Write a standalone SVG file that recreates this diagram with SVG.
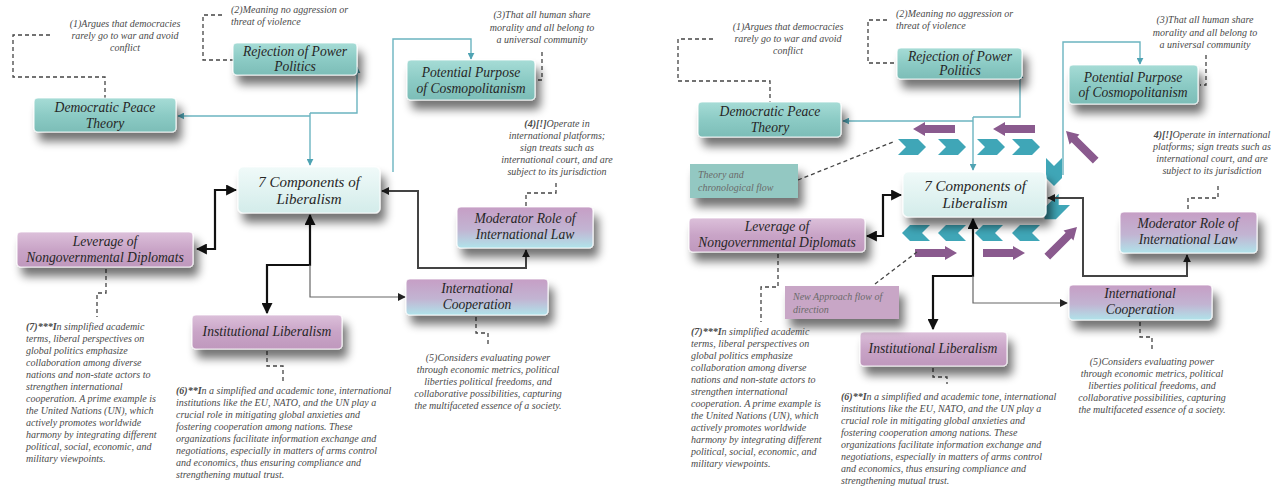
<svg xmlns="http://www.w3.org/2000/svg" width="1272" height="488" viewBox="0 0 1272 488">
<defs>
<style>
.bt{font-family:"Liberation Serif",serif;font-style:italic;font-size:13.6px;fill:#262626;text-anchor:middle}
.bt7{font-family:"Liberation Serif",serif;font-style:italic;font-size:15px;fill:#262626;text-anchor:middle}
.an{font-family:"Liberation Serif",serif;font-style:italic;font-size:10px;fill:#4a4a4a}
.ac{text-anchor:middle}
.sm{font-family:"Liberation Serif",serif;font-style:italic;font-size:10px;fill:#6a6a6a}
.box{stroke:#ffffff;stroke-opacity:0.8;stroke-width:1.2;filter:url(#sh)}
.teal{fill:url(#gTeal)}
.light{fill:url(#gLight)}
.pink{fill:url(#gPink)}
.pc{fill:url(#gPC)}
.dash{fill:none;stroke:#444;stroke-width:1.3;stroke-dasharray:4 3}
.ct{fill:none;stroke:#6bb4c0;stroke-width:1.4}
.cb{fill:none;stroke:#111;stroke-width:2.2}
.cg{fill:none;stroke:#666;stroke-width:1.2}
.cd{fill:none;stroke:#444;stroke-width:2}
.chev{fill:#3fa6b7}
.parr{fill:#8a5a8e}
</style>
<linearGradient id="gTeal" x1="0" y1="0" x2="0" y2="1"><stop offset="0" stop-color="#a6dcd6"/><stop offset="0.5" stop-color="#8ccbc5"/><stop offset="1" stop-color="#7cbdb7"/></linearGradient>
<linearGradient id="gLight" x1="0" y1="0" x2="0" y2="1"><stop offset="0" stop-color="#f0faf9"/><stop offset="1" stop-color="#d3ecea"/></linearGradient>
<linearGradient id="gPink" x1="0" y1="0" x2="0" y2="1"><stop offset="0" stop-color="#dcc0da"/><stop offset="0.5" stop-color="#c9a4c7"/><stop offset="1" stop-color="#bf98bd"/></linearGradient>
<linearGradient id="gPC" x1="0" y1="0" x2="0" y2="1"><stop offset="0" stop-color="#c69ec5"/><stop offset="0.55" stop-color="#c2b4d2"/><stop offset="1" stop-color="#b0e3ea"/></linearGradient>
<filter id="sh" x="-20%" y="-30%" width="150%" height="190%"><feGaussianBlur in="SourceAlpha" stdDeviation="5"/><feOffset dx="5" dy="9" result="b"/><feComponentTransfer><feFuncA type="linear" slope="0.55"/></feComponentTransfer><feMerge><feMergeNode/><feMergeNode in="SourceGraphic"/></feMerge></filter>
<marker id="mT" viewBox="0 0 10 10" refX="9" refY="5" markerWidth="7" markerHeight="7" orient="auto-start-reverse" markerUnits="userSpaceOnUse"><path d="M0,0 L10,5 L0,10 z" fill="#4fa3b3"/></marker>
<marker id="mB" viewBox="0 0 10 10" refX="9" refY="5" markerWidth="11" markerHeight="11" orient="auto-start-reverse" markerUnits="userSpaceOnUse"><path d="M0,0 L10,5 L0,10 z" fill="#111"/></marker>
<marker id="mG" viewBox="0 0 10 10" refX="9" refY="5" markerWidth="8" markerHeight="8" orient="auto-start-reverse" markerUnits="userSpaceOnUse"><path d="M0,0 L10,5 L0,10 z" fill="#222"/></marker>
<path id="chR" d="M0,0 L20,0 L28,8 L20,16 L0,16 L8,8 z"/>
<path id="paL" d="M0,0 L12,-7 L12,-4 L42,-4 L42,4 L12,4 L12,7 z"/>
</defs>
<rect width="1272" height="488" fill="#ffffff"/>

<!-- LEFT DIAGRAM -->
<g id="connectors-left">
<path class="ct" d="M310 113 L357 113 L357 67" marker-end="url(#mT)"/>
<path class="ct" d="M310 113 L310 165" marker-end="url(#mT)"/>
<path class="ct" d="M310 116 L178 116" marker-end="url(#mT)"/>
<path class="ct" d="M393 172 L393 39 L471 39 L471 59" marker-end="url(#mT)"/>
<path class="cb" d="M197 249 L215 249 L215 190 L236 190" marker-start="url(#mB)" marker-end="url(#mB)"/>
<path class="cb" d="M310 215 L310 265 L267 265 L267 313" marker-start="url(#mB)" marker-end="url(#mB)"/>
<path class="cg" d="M310 265 L310 297 L405 297" marker-end="url(#mG)"/>
<path class="cd" d="M526 250 L526 268 L418 268 L418 191 L382 191" marker-start="url(#mG)" marker-end="url(#mG)"/>
<path class="dash" d="M50 35 L13 35 L13 77 L105 77 L105 98"/>
<path class="dash" d="M222 15 L203 15 L203 60 L233 60"/>
<path class="dash" d="M542 52 L542 80 L537 80"/>
<path class="dash" d="M556 183 L556 193 L526 193 L526 207"/>
<path class="dash" d="M476 317 L476 333 L488 333 L488 347"/>
<path class="dash" d="M267 351 L267 366 L283 366 L283 382"/>
<path class="dash" d="M106 269 L106 293 L97 293 L97 317"/>
</g>

<g id="L-democratic"><rect class="box teal" x="34" y="98" width="142" height="34" rx="4"/><text class="bt" x="105" y="112">Democratic Peace</text><text class="bt" x="105" y="128">Theory</text></g>
<g id="L-rejection"><rect class="box teal" x="233" y="43" width="124" height="32" rx="4"/><text class="bt" x="295" y="56">Rejection of Power</text><text class="bt" x="295" y="71">Politics</text></g>
<g id="L-potential"><rect class="box teal" x="407" y="60" width="128" height="40" rx="4"/><text class="bt" x="471" y="77">Potential Purpose</text><text class="bt" x="471" y="93">of Cosmopolitanism</text></g>
<g id="L-components"><rect class="box light" x="238" y="167" width="142" height="46" rx="5"/><text class="bt7" x="309" y="187">7 Components of</text><text class="bt7" x="309" y="204">Liberalism</text></g>
<g id="L-leverage"><rect class="box pink" x="17" y="232" width="176" height="35" rx="4"/><text class="bt" x="105" y="246">Leverage of</text><text class="bt" x="105" y="262">Nongovernmental Diplomats</text></g>
<g id="L-moderator"><rect class="box pc" x="457" y="207" width="136" height="41" rx="4"/><text class="bt" x="525" y="223">Moderator Role of</text><text class="bt" x="525" y="239">International Law</text></g>
<g id="L-cooperation"><rect class="box pc" x="406" y="279" width="142" height="36" rx="4"/><text class="bt" x="477" y="293">International</text><text class="bt" x="477" y="309">Cooperation</text></g>
<g id="L-institutional"><rect class="box pink" x="192" y="315" width="150" height="34" rx="4"/><text class="bt" x="267" y="336">Institutional Liberalism</text></g>

<g id="L-notes">
<text class="an ac"><tspan x="125" y="27">(1)Argues that democracies</tspan><tspan x="125" y="39">rarely go to war and avoid</tspan><tspan x="125" y="51">conflict</tspan></text>
<text class="an"><tspan x="231" y="13">(2)Meaning no aggression or</tspan><tspan x="231" y="25">threat of violence</tspan></text>
<text class="an ac"><tspan x="542" y="18">(3)That all human share</tspan><tspan x="542" y="31">morality and all belong to</tspan><tspan x="542" y="43">a universal community</tspan></text>
<text class="an ac"><tspan x="557" y="127"><tspan font-weight="bold">(4)[!]</tspan>Operate in</tspan><tspan x="557" y="139">international platforms;</tspan><tspan x="557" y="151">sign treats such as</tspan><tspan x="557" y="163">international court, and are</tspan><tspan x="557" y="175">subject to its jurisdiction</tspan></text>
<text class="an ac"><tspan x="488" y="361">(5)Considers evaluating power</tspan><tspan x="488" y="373">through  economic metrics, political</tspan><tspan x="488" y="385">liberties political freedoms, and</tspan><tspan x="488" y="397">collaborative possibilities, capturing</tspan><tspan x="488" y="409">the multifaceted essence of a society.</tspan></text>
<text class="an"><tspan x="176" y="394"><tspan font-weight="bold">(6)**I</tspan>n a simplified and academic tone, international</tspan><tspan x="176" y="406">institutions like the EU, NATO, and the UN play a</tspan><tspan x="176" y="418">crucial role in mitigating global anxieties  and</tspan><tspan x="176" y="430">fostering cooperation among nations. These</tspan><tspan x="176" y="442">organizations facilitate information exchange and</tspan><tspan x="176" y="454">negotiations, especially in matters of arms control</tspan><tspan x="176" y="466">and economics, thus ensuring compliance and</tspan><tspan x="176" y="478">strengthening mutual trust.</tspan></text>
<text class="an"><tspan x="26" y="330"><tspan font-weight="bold">(7)***I</tspan>n simplified academic</tspan><tspan x="26" y="342">terms, liberal perspectives on</tspan><tspan x="26" y="354">global politics emphasize</tspan><tspan x="26" y="366">collaboration among diverse</tspan><tspan x="26" y="378">nations and non-state actors to</tspan><tspan x="26" y="390">strengthen international</tspan><tspan x="26" y="402">cooperation. A prime example is</tspan><tspan x="26" y="414">the United Nations (UN), which</tspan><tspan x="26" y="426">actively promotes worldwide</tspan><tspan x="26" y="438">harmony by integrating different</tspan><tspan x="26" y="450">political, social, economic, and</tspan><tspan x="26" y="462">military viewpoints.</tspan></text>
</g>

<!-- RIGHT DIAGRAM -->
<g id="flow-arrows">
<use href="#chR" class="chev" x="898" y="139"/>
<use href="#chR" class="chev" x="938" y="139"/>
<use href="#chR" class="chev" x="977" y="139"/>
<use href="#chR" class="chev" x="1012" y="139"/>
<use href="#chR" class="chev" transform="translate(1062,158) rotate(90)"/>
<use href="#chR" class="chev" transform="translate(1070,205) rotate(135)"/>
<use href="#chR" class="chev" transform="translate(930,241) rotate(180)"/>
<use href="#chR" class="chev" transform="translate(966,241) rotate(180)"/>
<use href="#chR" class="chev" transform="translate(1003,241) rotate(180)"/>
<use href="#chR" class="chev" transform="translate(1040,241) rotate(180)"/>
<use href="#paL" class="parr" x="913" y="129"/>
<use href="#paL" class="parr" x="993" y="129"/>
<use href="#paL" class="parr" transform="translate(1066,131) rotate(45)"/>
<use href="#paL" class="parr" transform="translate(957,253) rotate(180)"/>
<use href="#paL" class="parr" transform="translate(1025,253) rotate(180)"/>
<use href="#paL" class="parr" transform="translate(1077,227) rotate(135)"/>
</g>

<g id="connectors-right">
<path class="ct" d="M973 117 L1020 117 L1020 72" marker-end="url(#mT)"/>
<path class="ct" d="M973 117 L973 170" marker-end="url(#mT)"/>
<path class="ct" d="M973 121 L843 121" marker-end="url(#mT)"/>
<path class="ct" d="M1063 175 L1063 42 L1140 42 L1140 64" marker-end="url(#mT)"/>
<path class="cb" d="M867 236 L883 236 L883 195 L901 195" marker-start="url(#mB)" marker-end="url(#mB)"/>
<path class="cb" d="M973 219 L973 276 L933 276 L933 329" marker-start="url(#mB)" marker-end="url(#mB)"/>
<path class="cg" d="M973 276 L973 303 L1067 303" marker-end="url(#mG)"/>
<path class="cd" d="M1187 255 L1187 276 L1083 276 L1083 198 L1048 198" marker-start="url(#mG)" marker-end="url(#mG)"/>
<path class="dash" d="M713 39 L678 39 L678 81 L770 81 L770 102"/>
<path class="dash" d="M887 20 L868 20 L868 63 L897 63"/>
<path class="dash" d="M1206 55 L1206 85 L1200 85"/>
<path class="dash" d="M1218 186 L1218 198 L1188 198 L1188 212"/>
<path class="dash" d="M1140 322 L1140 337 L1152 337 L1152 352"/>
<path class="dash" d="M933 368 L933 377 L947 377 L947 384"/>
<path class="dash" d="M778 254 L778 287 L761 287 L761 322"/>
<path class="dash" d="M798 180 L893 142"/>
<path class="dash" d="M875 284 L917 252"/>
</g>

<g id="R-democratic"><rect class="box teal" x="698" y="102" width="143" height="35" rx="4"/><text class="bt" x="770" y="116">Democratic Peace</text><text class="bt" x="770" y="132">Theory</text></g>
<g id="R-rejection"><rect class="box teal" x="897" y="48" width="125" height="31" rx="4"/><text class="bt" x="960" y="61">Rejection of Power</text><text class="bt" x="960" y="75">Politics</text></g>
<g id="R-potential"><rect class="box teal" x="1069" y="65" width="129" height="39" rx="4"/><text class="bt" x="1133" y="82">Potential Purpose</text><text class="bt" x="1133" y="97">of Cosmopolitanism</text></g>
<g id="R-components"><rect class="box light" x="903" y="172" width="143" height="45" rx="5"/><text class="bt7" x="975" y="191">7 Components of</text><text class="bt7" x="975" y="208">Liberalism</text></g>
<g id="R-leverage"><rect class="box pink" x="689" y="218" width="176" height="34" rx="4"/><text class="bt" x="777" y="231">Leverage of</text><text class="bt" x="777" y="247">Nongovernmental Diplomats</text></g>
<g id="R-moderator"><rect class="box pc" x="1120" y="212" width="137" height="41" rx="4"/><text class="bt" x="1188" y="228">Moderator Role of</text><text class="bt" x="1188" y="244">International Law</text></g>
<g id="R-cooperation"><rect class="box pc" x="1069" y="285" width="143" height="35" rx="4"/><text class="bt" x="1140" y="298">International</text><text class="bt" x="1140" y="314">Cooperation</text></g>
<g id="R-institutional"><rect class="box pink" x="860" y="332" width="147" height="34" rx="4"/><text class="bt" x="933" y="353">Institutional Liberalism</text></g>
<g id="R-theory"><rect x="690" y="164" width="108" height="34" fill="#93c8c2" filter="url(#sh)"/><text class="sm"><tspan x="698" y="178">Theory  and</tspan><tspan x="698" y="191">chronological flow</tspan></text></g>
<g id="R-newapproach"><rect x="785" y="286" width="114" height="33" fill="#c8a6c6" filter="url(#sh)"/><text class="sm"><tspan x="793" y="300">New Approach flow of</tspan><tspan x="793" y="313">direction</tspan></text></g>

<g id="R-notes">
<text class="an ac"><tspan x="788" y="30">(1)Argues that democracies</tspan><tspan x="788" y="42">rarely go to war and avoid</tspan><tspan x="788" y="54">conflict</tspan></text>
<text class="an"><tspan x="896" y="17">(2)Meaning no aggression or</tspan><tspan x="896" y="29">threat of violence</tspan></text>
<text class="an ac"><tspan x="1205" y="23">(3)That all human share</tspan><tspan x="1205" y="36">morality and all belong to</tspan><tspan x="1205" y="48">a universal community</tspan></text>
<text class="an ac"><tspan x="1212" y="138"><tspan font-weight="bold">4)[!]</tspan>Operate in international</tspan><tspan x="1212" y="150">platforms; sign treats such as</tspan><tspan x="1212" y="162">international court, and are</tspan><tspan x="1212" y="174">subject to its jurisdiction</tspan></text>
<text class="an ac"><tspan x="1152" y="365">(5)Considers evaluating power</tspan><tspan x="1152" y="377">through  economic metrics, political</tspan><tspan x="1152" y="389">liberties political freedoms, and</tspan><tspan x="1152" y="401">collaborative possibilities, capturing</tspan><tspan x="1152" y="413">the multifaceted essence of a society.</tspan></text>
<text class="an"><tspan x="841" y="400"><tspan font-weight="bold">(6)**I</tspan>n a simplified and academic tone, international</tspan><tspan x="841" y="412">institutions like the EU, NATO, and the UN play a</tspan><tspan x="841" y="424">crucial role in mitigating global anxieties  and</tspan><tspan x="841" y="436">fostering cooperation among nations. These</tspan><tspan x="841" y="448">organizations facilitate information exchange and</tspan><tspan x="841" y="460">negotiations, especially in matters of arms control</tspan><tspan x="841" y="472">and economics, thus ensuring compliance and</tspan><tspan x="841" y="484">strengthening mutual trust.</tspan></text>
<text class="an"><tspan x="691" y="335"><tspan font-weight="bold">(7)***I</tspan>n simplified academic</tspan><tspan x="691" y="347">terms, liberal perspectives on</tspan><tspan x="691" y="359">global politics emphasize</tspan><tspan x="691" y="371">collaboration among diverse</tspan><tspan x="691" y="383">nations and non-state actors to</tspan><tspan x="691" y="395">strengthen international</tspan><tspan x="691" y="407">cooperation. A prime example is</tspan><tspan x="691" y="419">the United Nations (UN), which</tspan><tspan x="691" y="431">actively promotes worldwide</tspan><tspan x="691" y="443">harmony by integrating different</tspan><tspan x="691" y="455">political, social, economic, and</tspan><tspan x="691" y="467">military viewpoints.</tspan></text>
</g>
</svg>
